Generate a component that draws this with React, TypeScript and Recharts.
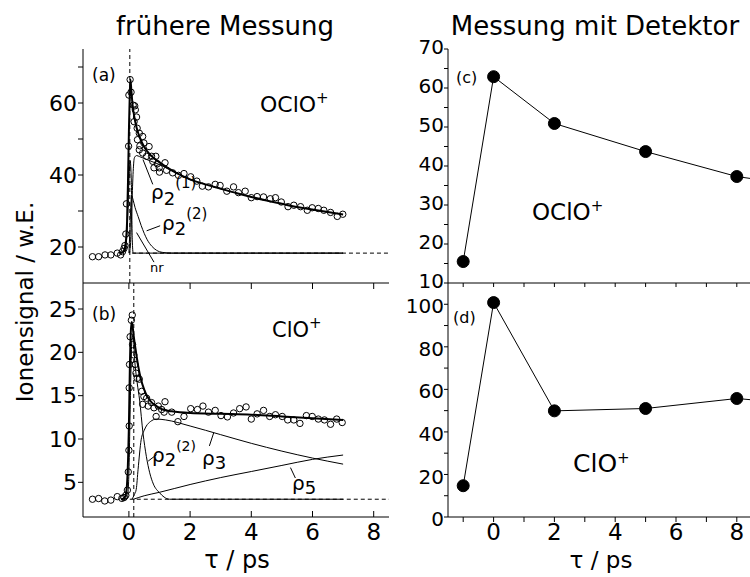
import React from 'react'
import { ComposedChart, Line, Scatter, XAxis, YAxis, ReferenceLine } from 'recharts'

const FONT = '"DejaVu Sans", "Liberation Sans", sans-serif'

// (a) OClO+ frühere Messung: Messpunkte und Fitkurven [tau ps, signal]
const aData: [number, number][] = [
  [-1.19, 17.3], [-0.99, 17.3], [-0.78, 17.8], [-0.59, 17.8], [-0.38, 18.3], [-0.27, 17.8],
  [-0.21, 18.7], [-0.16, 19.6], [-0.13, 20.4], [-0.1, 23.6], [-0.08, 32], [-0.01, 48],
  [0.0, 62.2], [0.04, 66.5], [0.07, 63], [0.14, 59.4], [0.19, 59.2], [0.21, 58.1],
  [0.25, 56.1], [0.17, 54.8], [0.27, 53.0], [0.34, 51.6], [0.28, 49.8], [0.45, 50.7],
  [0.36, 48.1], [0.49, 48.9], [0.34, 47.0], [0.45, 46.1], [0.66, 47.9], [0.58, 45.2],
  [0.74, 45.2], [0.88, 45.2], [0.78, 43.8], [0.93, 43.1], [0.82, 42.0], [0.99, 42.0],
  [1.18, 43.4], [1.0, 40.8], [1.23, 41.3], [1.43, 40.6], [1.62, 39.9], [1.8, 40.4],
  [2.02, 39.5], [2.22, 38.3], [2.4, 36.9], [2.6, 36.7], [2.82, 37.4], [2.98, 37.1],
  [3.2, 35.5], [3.42, 36.7], [3.58, 35.1], [3.8, 35.5], [4.0, 33.7], [4.19, 34.0],
  [4.4, 33.9], [4.62, 33.4], [4.79, 33.7], [4.98, 32.5], [5.2, 31.2], [5.39, 31.6],
  [5.61, 31.2], [5.83, 30.2], [5.99, 30.9], [6.19, 30.7], [6.37, 30.2], [6.59, 29.6],
  [6.81, 28.5], [6.99, 29.1],
]
const aFit: [number, number][] = [
  [-0.3, 18.3], [-0.2, 18.5], [-0.15, 19.2], [-0.1, 21.5], [-0.06, 27], [-0.03, 38],
  [0.0, 52], [0.03, 63], [0.05, 66.5], [0.08, 63.5], [0.12, 59.5], [0.18, 56],
  [0.25, 53.2], [0.35, 50.5], [0.5, 47.8], [0.7, 45.6], [1.0, 43.5], [1.5, 40.8],
  [2, 38.8], [2.5, 37.4], [3, 36.2], [3.5, 35.0], [4, 33.9], [4.5, 32.9], [5, 32.0],
  [5.5, 31.1], [6, 30.4], [6.5, 29.7], [7, 29.0],
]
const aRho21: [number, number][] = [
  [0.02, 18.3], [0.06, 22], [0.1, 32], [0.14, 41], [0.18, 44.8], [0.25, 45.4], [0.35, 45.1],
  [0.5, 44.6], [0.7, 43.9], [1.0, 42.9], [1.3, 41.6], [1.6, 40.4],
]
const aRho22: [number, number][] = [
  [0.0, 18.3], [0.03, 24], [0.06, 31], [0.09, 34.3], [0.14, 33], [0.2, 31], [0.3, 28.5],
  [0.4, 26], [0.5, 23.8], [0.6, 22], [0.75, 20.2], [0.9, 19.1], [1.1, 18.5], [1.4, 18.3], [7, 18.3],
]
const aNr: [number, number][] = [
  [-0.25, 18.3], [-0.12, 19], [-0.05, 26], [0.0, 38], [0.04, 44], [0.08, 38], [0.11, 22],
  [0.14, 18.3], [7, 18.3],
]

// (b) ClO+
const bData: [number, number][] = [
  [-1.19, 3.05], [-0.99, 3.13], [-0.79, 2.85], [-0.59, 2.95], [-0.38, 3.35], [-0.23, 3.15],
  [-0.16, 3.24], [-0.1, 3.5], [-0.05, 4.1], [-0.02, 6.2], [0.0, 8.7], [0.01, 11.5],
  [0.01, 15.9], [0.02, 18.6], [0.04, 21.8], [0.08, 23.7], [0.11, 24.3], [0.12, 20.9],
  [0.16, 19.7], [0.2, 18.6], [0.23, 17.6], [0.27, 17.0], [0.34, 16.9], [0.42, 15.5],
  [0.49, 14.9], [0.45, 14.0], [0.58, 14.7], [0.63, 13.8], [0.74, 14.2], [0.82, 13.6],
  [0.89, 12.6], [0.96, 13.8], [1.07, 13.4], [1.18, 14.3], [1.15, 13.1], [1.4, 13.1],
  [1.6, 12.0], [1.8, 12.6], [2.02, 13.5], [2.24, 13.4], [2.42, 13.8], [2.6, 13.1],
  [2.82, 13.3], [3.01, 12.7], [3.22, 12.55], [3.42, 13.0], [3.62, 13.5], [3.83, 13.7],
  [4.0, 12.3], [4.19, 12.9], [4.4, 13.3], [4.6, 12.6], [4.79, 12.8], [5.01, 12.6],
  [5.19, 12.2], [5.39, 12.2], [5.59, 11.8], [5.8, 12.7], [5.99, 12.6], [6.19, 12.3],
  [6.39, 12.2], [6.59, 11.7], [6.79, 12.3], [6.97, 11.9],
]
const bFit: [number, number][] = [
  [-0.25, 3.05], [-0.15, 3.2], [-0.1, 3.6], [-0.05, 5.5], [-0.02, 8.5], [0.0, 11.5],
  [0.03, 18], [0.06, 22.2], [0.09, 23.5], [0.12, 23.0], [0.16, 21.8], [0.22, 20.3],
  [0.3, 18.5], [0.4, 16.8], [0.5, 15.7], [0.6, 14.9], [0.75, 14.2], [0.9, 13.8],
  [1.1, 13.4], [1.4, 13.2], [2, 13.0], [3, 12.9], [4, 12.8], [5, 12.6], [6, 12.4], [7, 12.2],
]
const bRho22: [number, number][] = [
  [-0.05, 3.1], [0.0, 6], [0.05, 15], [0.1, 21.5], [0.14, 22], [0.19, 19.1], [0.27, 16.5],
  [0.35, 14.5], [0.46, 10.7], [0.57, 8.0], [0.68, 6.1], [0.8, 4.8], [1.0, 3.8], [1.15, 3.3],
  [1.33, 3.05], [7, 3.05],
]
const bRho3: [number, number][] = [
  [0.1, 3.05], [0.18, 3.6], [0.24, 4.2], [0.3, 6.5], [0.4, 9.9], [0.5, 11.0], [0.57, 11.5],
  [0.7, 12.0], [0.9, 12.3], [1.2, 12.2], [2, 11.5], [3, 10.5], [4, 9.5], [5, 8.6], [6, 7.8], [7, 7.1],
]
const bRho5: [number, number][] = [
  [0.15, 3.05], [0.5, 3.45], [1, 3.85], [2, 4.75], [3, 5.55], [4, 6.25], [5, 6.95], [6, 7.65], [7, 8.15],
]

// (c), (d) Messung mit Detektor
const detTau = [-1, 0, 2, 5, 8, 11]
const cOClO = [15.5, 62.9, 50.9, 43.7, 37.3, 34]
const dClO = [14.7, 100.8, 49.9, 51.0, 55.7, 52]

const pts = (a: [number, number][]) => a.map(([x, y]) => ({ x, y }))
const detC = detTau.map((x, i) => ({ x, y: cOClO[i] }))
const detD = detTau.map((x, i) => ({ x, y: dClO[i] }))

const blank = () => ''
const tickFont = { fontSize: 22, fill: '#000', fontFamily: FONT }
const tickFontR = { fontSize: 20, fill: '#000', fontFamily: FONT }

const OpenCircle = (p: any) => (
  <circle cx={p.cx} cy={p.cy} r={3.2} fill="none" stroke="#000" strokeWidth={1} />
)

function fitLine(data: [number, number][], w: number) {
  return (
    <Line
      data={pts(data)}
      dataKey="y"
      type="monotone"
      stroke="#000"
      strokeWidth={w}
      dot={false}
      activeDot={false}
      isAnimationActive={false}
    />
  )
}

function Sup({ t }: { t: string }) {
  return (
    <tspan fontSize={15} dy={-9}>
      {t}
    </tspan>
  )
}

export default function App() {
  const dash = '4 3'
  return (
    <div
      style={{
        position: 'fixed',
        left: 0,
        top: 0,
        width: 750,
        height: 577,
        overflow: 'hidden',
        background: '#fff',
        fontFamily: FONT,
      }}
    >
      {/* (a) */}
      <div style={{ position: 'absolute', left: 0, top: 0 }}>
        <ComposedChart width={400} height={577} margin={{ top: 49, right: 11, left: 0, bottom: 274 }}>
          <XAxis dataKey="x" type="number" domain={[-1.5, 8.5]} ticks={[0, 2, 4, 6, 8]} interval={0}
            tickFormatter={blank} tickSize={6} height={20} stroke="#000" allowDataOverflow />
          <XAxis xAxisId="t" orientation="top" type="number" domain={[-1.5, 8.5]} tick={false}
            tickLine={false} height={0} stroke="#000" />
          <YAxis type="number" domain={[10, 75]} ticks={[20, 30, 40, 50, 60, 70]} interval={0}
            tickFormatter={(v) => (v % 20 === 0 ? String(v) : '')} width={83} tickSize={5} tickMargin={1}
            tick={tickFont} stroke="#000" allowDataOverflow />
          <YAxis yAxisId="r" orientation="right" type="number" domain={[10, 75]}
            ticks={[15, 20, 25, 30, 35, 40, 45, 50, 55, 60, 65, 70]} interval={0} tickFormatter={blank}
            tickSize={-4} width={0} stroke="#000" />
          <ReferenceLine x={0.03} stroke="#000" strokeDasharray={dash} />
          <ReferenceLine segment={[{ x: 0.1, y: 18.3 }, { x: 8.5, y: 18.3 }]} stroke="#000" strokeDasharray={dash} />
          <ReferenceLine segment={[{ x: 0.46, y: 44.3 }, { x: 0.78, y: 37.4 }]} stroke="#000" />
          <ReferenceLine segment={[{ x: 0.58, y: 24.5 }, { x: 1.02, y: 25.9 }]} stroke="#000" />
          <ReferenceLine segment={[{ x: 0.25, y: 24.0 }, { x: 0.82, y: 15.8 }]} stroke="#000" />
          <Scatter data={pts(aData)} dataKey="y" shape={OpenCircle} isAnimationActive={false} />
          {fitLine(aNr, 1)}
          {fitLine(aRho22, 1)}
          {fitLine(aRho21, 1)}
          {fitLine(aFit, 2)}
        </ComposedChart>
      </div>

      {/* (b) */}
      <div style={{ position: 'absolute', left: 0, top: 0 }}>
        <ComposedChart width={400} height={577} margin={{ top: 283, right: 11, left: 0, bottom: 20 }}>
          <XAxis dataKey="x" type="number" domain={[-1.5, 8.5]} ticks={[0, 2, 4, 6, 8]} interval={0}
            tickSize={-6} tickMargin={13} height={40} tick={{ ...tickFont, fontSize: 23 }} stroke="#000"
            allowDataOverflow />
          <YAxis type="number" domain={[1, 28]} ticks={[5, 10, 15, 20, 25]} interval={0} width={83}
            tickSize={5} tickMargin={1} tick={tickFont} stroke="#000" allowDataOverflow />
          <YAxis yAxisId="r" orientation="right" type="number" domain={[1, 28]}
            ticks={[2.5, 5, 7.5, 10, 12.5, 15, 17.5, 20, 22.5, 25, 27.5]} interval={0} tickFormatter={blank}
            tickSize={-4} width={0} stroke="#000" />
          <ReferenceLine x={0.16} stroke="#000" strokeDasharray={dash} />
          <ReferenceLine segment={[{ x: -0.2, y: 3.05 }, { x: 8.5, y: 3.05 }]} stroke="#000" strokeDasharray={dash} />
          <ReferenceLine segment={[{ x: 0.63, y: 7.45 }, { x: 0.91, y: 8.2 }]} stroke="#000" />
          <ReferenceLine segment={[{ x: 2.77, y: 10.7 }, { x: 2.63, y: 9.2 }]} stroke="#000" />
          <ReferenceLine segment={[{ x: 5.28, y: 6.7 }, { x: 5.44, y: 5.5 }]} stroke="#000" />
          <Scatter data={pts(bData)} dataKey="y" shape={OpenCircle} isAnimationActive={false} />
          {fitLine(bRho5, 1)}
          {fitLine(bRho3, 1)}
          {fitLine(bRho22, 1)}
          {fitLine(bFit, 2)}
        </ComposedChart>
      </div>

      {/* (c) */}
      <div style={{ position: 'absolute', left: 380, top: 0 }}>
        <ComposedChart width={380} height={577} margin={{ top: 49, right: 8, left: 0, bottom: 274 }}>
          <XAxis dataKey="x" type="number" domain={[-1.5, 8.5]} ticks={[-1, 0, 1, 2, 3, 4, 5, 6, 7, 8]}
            interval={0} tickFormatter={blank} tickSize={4} height={20} stroke="#000" allowDataOverflow />
          <XAxis xAxisId="t" orientation="top" type="number" domain={[-1.5, 8.5]}
            ticks={[-1, 0, 1, 2, 3, 4, 5, 6, 7, 8]} interval={0} tickFormatter={blank} tickSize={-4}
            height={0} stroke="#000" />
          <YAxis type="number" domain={[10, 70]} ticks={[10, 15, 20, 25, 30, 35, 40, 45, 50, 55, 60, 65, 70]}
            interval={0} tickFormatter={(v) => (v % 10 === 0 ? String(v) : '')} width={68} tickSize={4}
            tickMargin={0} tick={{ ...tickFontR, dy: -2 }} stroke="#000" />
          <Line data={detC} dataKey="y" type="linear" stroke="#000" strokeWidth={1}
            dot={{ r: 6, fill: '#000', stroke: '#000', strokeWidth: 1 }} activeDot={false} isAnimationActive={false} />
        </ComposedChart>
      </div>

      {/* (d) */}
      <div style={{ position: 'absolute', left: 380, top: 0 }}>
        <ComposedChart width={380} height={577} margin={{ top: 283, right: 8, left: 0, bottom: 20 }}>
          <XAxis dataKey="x" type="number" domain={[-1.5, 8.5]} ticks={[-1, 0, 1, 2, 3, 4, 5, 6, 7, 8]}
            interval={0} tickFormatter={(v) => (v % 2 === 0 ? String(v) : '')} tickSize={5} tickMargin={2}
            height={40} tick={{ ...tickFont, fontSize: 23 }} stroke="#000" allowDataOverflow />
          <YAxis type="number" domain={[0, 110]} ticks={[0, 10, 20, 30, 40, 50, 60, 70, 80, 90, 100]}
            interval={0} tickFormatter={(v) => (v % 20 === 0 ? String(v) : '')} width={68} tickSize={4}
            tickMargin={0} tick={{ ...tickFontR, dy: 2 }} stroke="#000" />
          <Line data={detD} dataKey="y" type="linear" stroke="#000" strokeWidth={1}
            dot={{ r: 6, fill: '#000', stroke: '#000', strokeWidth: 1 }} activeDot={false} isAnimationActive={false} />
        </ComposedChart>
      </div>

      {/* Beschriftungen */}
      <svg width={750} height={577} style={{ position: 'absolute', left: 0, top: 0, pointerEvents: 'none' }}
        fontFamily={FONT} fill="#000">
        <text x={225} y={35} textAnchor="middle" fontSize={26}>frühere Messung</text>
        <text x={595} y={35} textAnchor="middle" fontSize={26}>Messung mit Detektor</text>
        <text transform="translate(33,302) rotate(-90)" textAnchor="middle" fontSize={23}>Ionensignal / w.E.</text>
        <text x={237} y={568} textAnchor="middle" fontSize={24}>τ / ps</text>
        <text x={601} y={568} textAnchor="middle" fontSize={23}>τ / ps</text>

        <text x={92} y={81} fontSize={17}>(a)</text>
        <text x={92} y={320} fontSize={17}>(b)</text>
        <text x={456} y={83} fontSize={16}>(c)</text>
        <text x={453} y={323} fontSize={16}>(d)</text>

        <text x={260} y={112} fontSize={22}>OClO<Sup t="+" /></text>
        <text x={272} y={337} fontSize={21}>ClO<Sup t="+" /></text>
        <text x={532} y={220} fontSize={23}>OClO<Sup t="+" /></text>
        <text x={573} y={472} fontSize={25}>ClO<Sup t="+" /></text>

        <text x={151} y={199} fontSize={20}>ρ<tspan fontSize={18} dy={6}>2</tspan><tspan fontSize={15} dy={-17}>(1)</tspan></text>
        <text x={162} y={230} fontSize={20}>ρ<tspan fontSize={18} dy={5}>2</tspan><tspan fontSize={15} dy={-16}>(2)</tspan></text>
        <text x={150} y={272} fontSize={13}>nr</text>

        <text x={152} y={462} fontSize={20}>ρ<tspan fontSize={18} dy={4}>2</tspan><tspan fontSize={14} dy={-15}>(2)</tspan></text>
        <text x={202} y={465} fontSize={20}>ρ<tspan fontSize={18} dy={4}>3</tspan></text>
        <text x={292} y={490} fontSize={20}>ρ<tspan fontSize={18} dy={4}>5</tspan></text>
      </svg>
    </div>
  )
}
